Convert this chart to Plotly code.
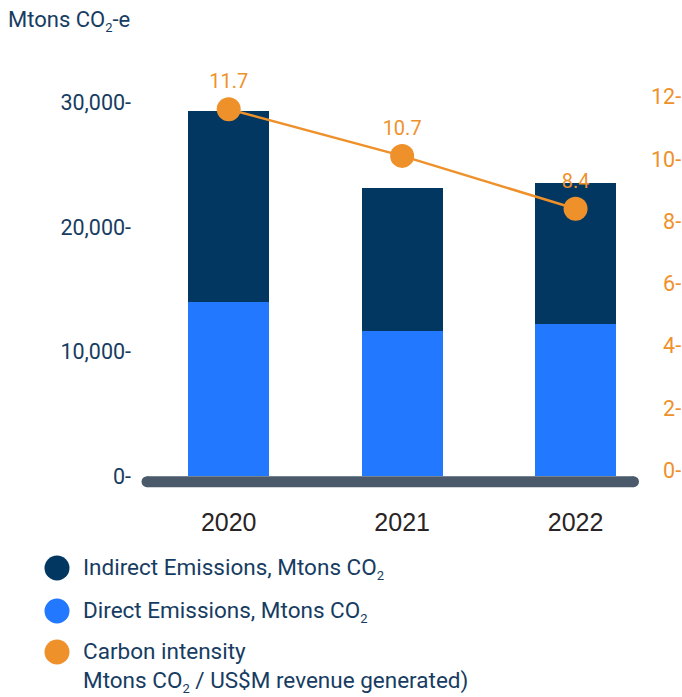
import plotly.graph_objects as go

# ---------------- data ----------------
years = ["2020", "2021", "2022"]
direct = [14000, 11650, 12200]
indirect = [15350, 11480, 11330]
intensity = [11.6, 10.1, 8.4]
intensity_labels = ["11.7", "10.7", "8.4"]
left_ticks = [0, 10000, 20000, 30000]
right_ticks = [0, 2, 4, 6, 8, 10, 12]
SUB2 = "<sub><span style='font-size:13px'>2</span></sub>"
series_names = [
    "Indirect Emissions, Mtons CO" + SUB2,
    "Direct Emissions, Mtons CO" + SUB2,
    "Carbon intensity<br>Mtons CO" + SUB2 + " / US$M revenue generated)",
]
title_text = "Mtons CO" + SUB2 + "-e"

# ---------------- style ----------------
C_IND = "#023762"
C_DIR = "#2278fe"
C_ORG = "#ef912b"
C_TXT = "#173c62"
C_XT = "#2a2424"
C_BASE = "#4a5a6b"
FONT = "Roboto"

W, H = 682, 697
L, R, T, B = 142, 44, 60, 207
PW, PH = W - L - R, H - T - B


def px2x(px):
    return (px - L) / PW


def px2y(py):
    return (H - B - py) / PH


fig = go.Figure()
fig.add_trace(go.Bar(x=years, y=direct, marker_color=C_DIR, width=0.467,
                     marker_line_width=0, name="Direct", showlegend=False))
fig.add_trace(go.Bar(x=years, y=indirect, marker_color=C_IND, width=0.467,
                     marker_line_width=0, name="Indirect", showlegend=False))
fig.add_trace(go.Scatter(x=years, y=intensity, yaxis="y2", mode="lines+markers+text",
                         line=dict(color=C_ORG, width=2.5),
                         marker=dict(size=24, color=C_ORG),
                         text=intensity_labels, textposition="top center",
                         textfont=dict(family=FONT, size=20, color=C_ORG),
                         cliponaxis=False, showlegend=False))

shapes = []
# thick rounded baseline
y_base = px2y(481.7)
shapes.append(dict(type="line", xref="paper", yref="paper", x0=px2x(147), x1=px2x(633.5),
                   y0=y_base, y1=y_base, line=dict(color=C_BASE, width=11), layer="above"))
for xe in (147, 633.5):
    shapes.append(dict(type="circle", xref="paper", yref="paper", xsizemode="pixel",
                       ysizemode="pixel", xanchor=px2x(xe), yanchor=y_base,
                       x0=-5.5, x1=5.5, y0=-5.5, y1=5.5,
                       fillcolor=C_BASE, line=dict(width=0), layer="above"))

# legend (custom)
annotations = []
leg_colors = [C_IND, C_DIR, C_ORG]
leg_y = [568, 611, 652]
for name, col, ly in zip(series_names, leg_colors, leg_y):
    shapes.append(dict(type="circle", xref="paper", yref="paper", xsizemode="pixel",
                       ysizemode="pixel", xanchor=px2x(57), yanchor=px2y(ly),
                       x0=-12.5, x1=12.5, y0=-12.5, y1=12.5,
                       fillcolor=col, line=dict(width=0)))
    multi = "<br>" in name
    annotations.append(dict(xref="paper", yref="paper", x=px2x(81),
                            y=px2y(ly - 16) if multi else px2y(ly),
                            xanchor="left", yanchor="top" if multi else "middle",
                            text=name, showarrow=False, align="left",
                            font=dict(family=FONT, size=22.5, color=C_TXT)))

annotations.append(dict(xref="paper", yref="paper", x=px2x(6), y=px2y(21),
                        xanchor="left", yanchor="middle", text=title_text,
                        showarrow=False, font=dict(family=FONT, size=22, color=C_TXT)))

right_text = [("\u2007" if v < 10 else "") + f"{v}-" for v in right_ticks]
left_text = [f"{v:,}-" for v in left_ticks]

fig.update_layout(
    width=W, height=H, margin=dict(l=L, r=R, t=T, b=B, autoexpand=False),
    paper_bgcolor="white", plot_bgcolor="white",
    barmode="stack", showlegend=False,
    shapes=shapes, annotations=annotations,
    xaxis=dict(type="category", range=[-0.5, 2.36], showgrid=False, showline=False,
               zeroline=False, ticks="", ticklabelstandoff=15, automargin=False,
               tickfont=dict(family="Liberation Sans", size=25, color=C_XT)),
    yaxis=dict(range=[-1125, 33440], tickvals=left_ticks, ticktext=left_text,
               showgrid=False, zeroline=False, showline=False, ticks="",
               ticklabelstandoff=10, automargin=False,
               tickfont=dict(family=FONT, size=21.5, color=C_TXT)),
    yaxis2=dict(range=[-0.633, 13.18], overlaying="y", side="right",
                tickvals=right_ticks, ticktext=right_text,
                showgrid=False, zeroline=False, showline=False, ticks="",
                ticklabelstandoff=12, automargin=False,
                tickfont=dict(family=FONT, size=21.5, color=C_ORG)),
)

fig.write_html("out.html")
